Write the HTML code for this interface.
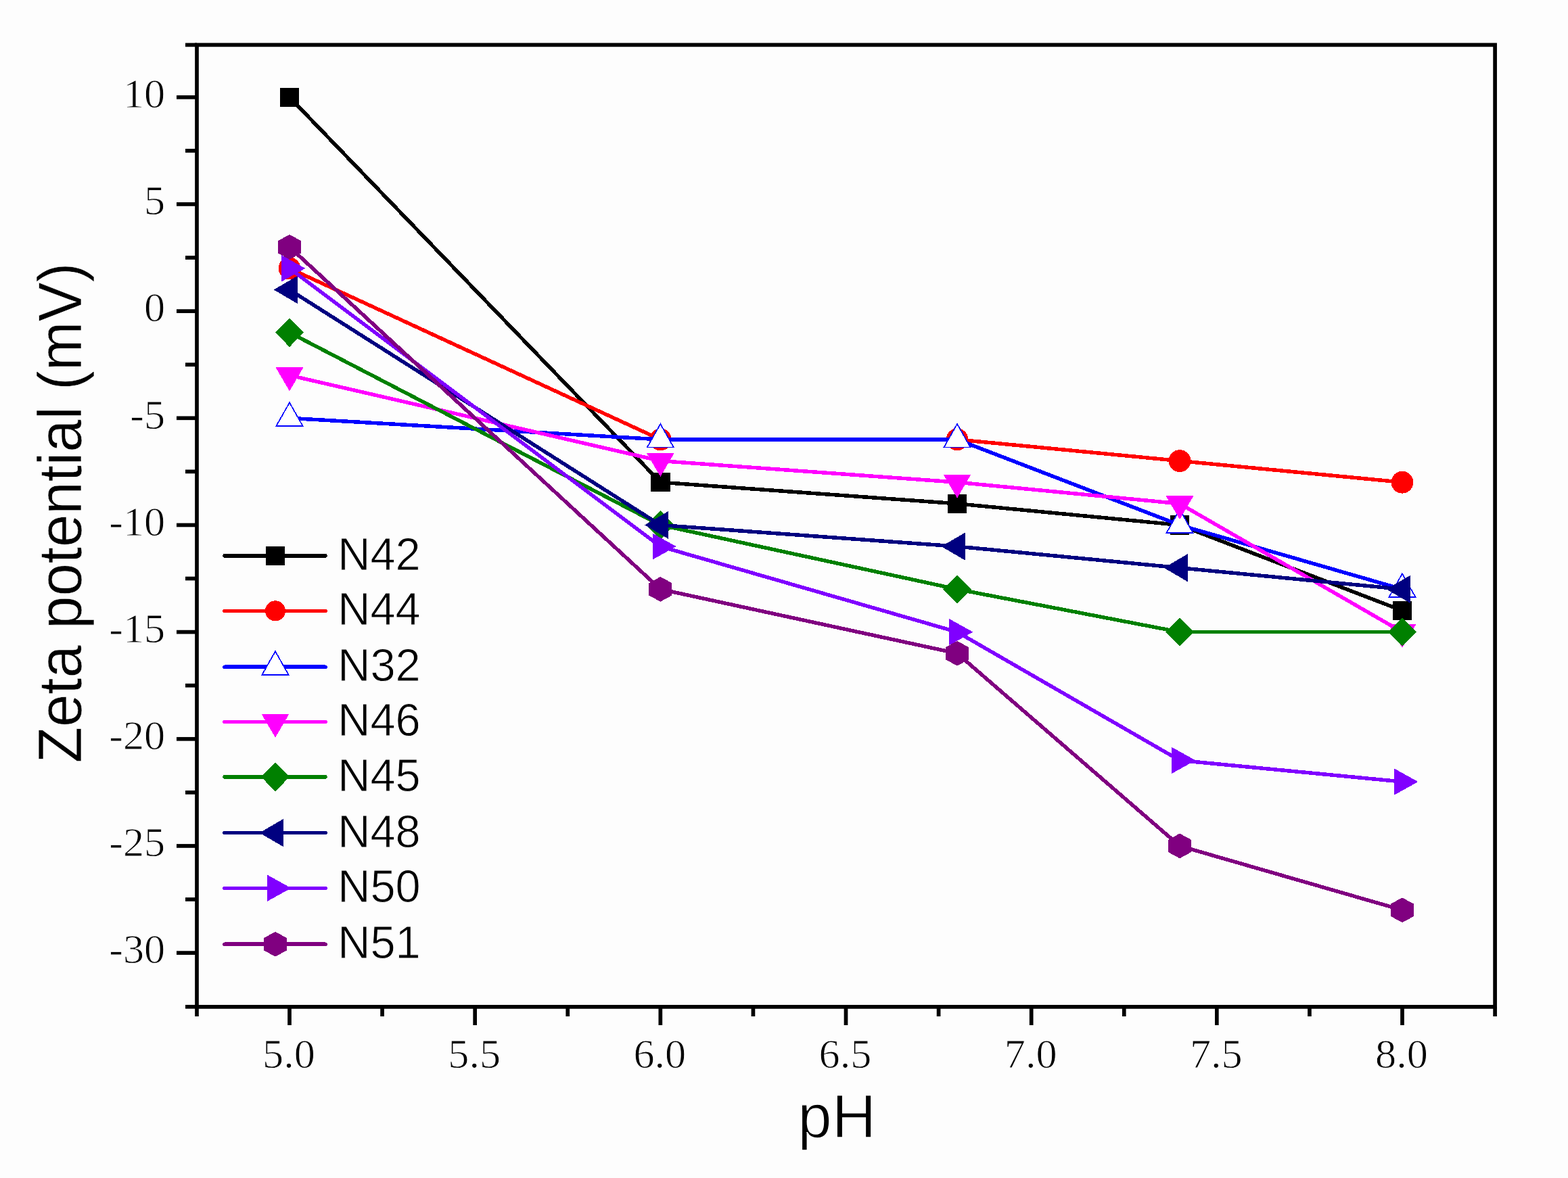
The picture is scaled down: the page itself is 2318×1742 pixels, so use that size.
<!DOCTYPE html>
<html><head><meta charset="utf-8"><title>Zeta potential vs pH</title>
<style>html,body{margin:0;padding:0;background:#fdfdfd;}svg{display:block;}</style></head><body>
<svg width="2318" height="1742" viewBox="0 0 2318 1742">
<rect x="0" y="0" width="2318" height="1742" fill="#fdfdfd"/>
<g stroke="#000" stroke-width="5.7" fill="none" stroke-linecap="butt">
<path d="M291 66.4H2210.1V1488.8H291Z"/>
<path d="M261 143.8H291"/>
<path d="M261 301.96H291"/>
<path d="M261 460.12H291"/>
<path d="M261 618.29H291"/>
<path d="M261 776.45H291"/>
<path d="M261 934.61H291"/>
<path d="M261 1092.78H291"/>
<path d="M261 1250.94H291"/>
<path d="M261 1409.1H291"/>
<path d="M274 66.4H291"/>
<path d="M274 222.88H291"/>
<path d="M274 381.04H291"/>
<path d="M274 539.21H291"/>
<path d="M274 697.37H291"/>
<path d="M274 855.53H291"/>
<path d="M274 1013.69H291"/>
<path d="M274 1171.86H291"/>
<path d="M274 1330.02H291"/>
<path d="M274 1488.8H291"/>
<path d="M428 1488.8V1516"/>
<path d="M702.17 1488.8V1516"/>
<path d="M976.33 1488.8V1516"/>
<path d="M1250.5 1488.8V1516"/>
<path d="M1524.67 1488.8V1516"/>
<path d="M1798.83 1488.8V1516"/>
<path d="M2073 1488.8V1516"/>
<path d="M291 1488.8V1503"/>
<path d="M565.08 1488.8V1503"/>
<path d="M839.25 1488.8V1503"/>
<path d="M1113.42 1488.8V1503"/>
<path d="M1387.58 1488.8V1503"/>
<path d="M1661.75 1488.8V1503"/>
<path d="M1935.92 1488.8V1503"/>
<path d="M2210.1 1488.8V1503"/>
</g>
<g font-family="'Liberation Serif','Times New Roman',serif" font-size="60.5" fill="#000" stroke="#fdfdfd" stroke-width="0.9">
<text transform="translate(244.2 159.1) scale(1.03 1)" text-anchor="end">10</text>
<text transform="translate(244.2 317.26) scale(1.03 1)" text-anchor="end">5</text>
<text transform="translate(244.2 475.43) scale(1.03 1)" text-anchor="end">0</text>
<text transform="translate(244.2 633.59) scale(1.03 1)" text-anchor="end">-5</text>
<text transform="translate(244.2 791.75) scale(1.03 1)" text-anchor="end">-10</text>
<text transform="translate(244.2 949.91) scale(1.03 1)" text-anchor="end">-15</text>
<text transform="translate(244.2 1108.08) scale(1.03 1)" text-anchor="end">-20</text>
<text transform="translate(244.2 1266.24) scale(1.03 1)" text-anchor="end">-25</text>
<text transform="translate(244.2 1424.4) scale(1.03 1)" text-anchor="end">-30</text>
<text transform="translate(427 1578.8) scale(1.03 1)" text-anchor="middle">5.0</text>
<text transform="translate(701.17 1578.8) scale(1.03 1)" text-anchor="middle">5.5</text>
<text transform="translate(975.33 1578.8) scale(1.03 1)" text-anchor="middle">6.0</text>
<text transform="translate(1249.5 1578.8) scale(1.03 1)" text-anchor="middle">6.5</text>
<text transform="translate(1523.67 1578.8) scale(1.03 1)" text-anchor="middle">7.0</text>
<text transform="translate(1797.83 1578.8) scale(1.03 1)" text-anchor="middle">7.5</text>
<text transform="translate(2072 1578.8) scale(1.03 1)" text-anchor="middle">8.0</text>
</g>
<text x="1179.3" y="1681.8" font-family="'Liberation Sans',Arial,sans-serif" font-size="90.7" fill="#000" stroke="#fdfdfd" stroke-width="1.4">pH</text>
<text transform="translate(119.6 1128.2) rotate(-90) scale(0.958 1)" font-family="'Liberation Sans',Arial,sans-serif" font-size="90.8" fill="#000" stroke="#fdfdfd" stroke-width="0.6">Zeta potential (mV)</text>
<g shape-rendering="crispEdges">
<polyline points="428,143.8 976.33,713.18 1415,744.82 1744,776.45 2073,902.98" fill="none" stroke="#000000" stroke-width="5.5" stroke-linejoin="round"/>
<rect x="413.7" y="129.5" width="28.6" height="28.6" fill="#000000"/>
<rect x="962.03" y="698.88" width="28.6" height="28.6" fill="#000000"/>
<rect x="1400.7" y="730.52" width="28.6" height="28.6" fill="#000000"/>
<rect x="1729.7" y="762.15" width="28.6" height="28.6" fill="#000000"/>
<rect x="2058.7" y="888.68" width="28.6" height="28.6" fill="#000000"/>
<polyline points="428,396.86 976.33,649.92 1415,649.92 1744,681.55 2073,713.18" fill="none" stroke="#FF0000" stroke-width="5.5" stroke-linejoin="round"/>
<circle cx="428" cy="396.86" r="16.4" fill="#FF0000"/>
<circle cx="976.33" cy="649.92" r="16.4" fill="#FF0000"/>
<circle cx="1415" cy="649.92" r="16.4" fill="#FF0000"/>
<circle cx="1744" cy="681.55" r="16.4" fill="#FF0000"/>
<circle cx="2073" cy="713.18" r="16.4" fill="#FF0000"/>
<polyline points="428,618.29 976.33,649.92 1415,649.92 1744,776.45 2073,871.35" fill="none" stroke="#0000FF" stroke-width="5.5" stroke-linejoin="round"/>
<polygon points="428,595.29 447.5,629.79 408.5,629.79" fill="#fff" stroke="#0000FF" stroke-width="1.7"/>
<polygon points="976.33,626.92 995.83,661.42 956.83,661.42" fill="#fff" stroke="#0000FF" stroke-width="1.7"/>
<polygon points="1415,626.92 1434.5,661.42 1395.5,661.42" fill="#fff" stroke="#0000FF" stroke-width="1.7"/>
<polygon points="1744,753.45 1763.5,787.95 1724.5,787.95" fill="#fff" stroke="#0000FF" stroke-width="1.7"/>
<polygon points="2073,848.35 2092.5,882.85 2053.5,882.85" fill="#fff" stroke="#0000FF" stroke-width="1.7"/>
<polyline points="428,555.02 976.33,681.55 1415,713.18 1744,744.82 2073,934.61" fill="none" stroke="#FF00FF" stroke-width="5.5" stroke-linejoin="round"/>
<polygon points="407.5,543.36 448.5,543.36 428,578.36" fill="#FF00FF"/>
<polygon points="955.83,669.89 996.83,669.89 976.33,704.89" fill="#FF00FF"/>
<polygon points="1394.5,701.52 1435.5,701.52 1415,736.52" fill="#FF00FF"/>
<polygon points="1723.5,733.15 1764.5,733.15 1744,768.15" fill="#FF00FF"/>
<polygon points="2052.5,922.95 2093.5,922.95 2073,957.95" fill="#FF00FF"/>
<polyline points="428,491.76 976.33,776.45 1415,871.35 1744,934.61 2073,934.61" fill="none" stroke="#008000" stroke-width="5.5" stroke-linejoin="round"/>
<polygon points="428,470.46 449,491.76 428,513.06 407,491.76" fill="#008000"/>
<polygon points="976.33,755.15 997.33,776.45 976.33,797.75 955.33,776.45" fill="#008000"/>
<polygon points="1415,850.05 1436,871.35 1415,892.65 1394,871.35" fill="#008000"/>
<polygon points="1744,913.31 1765,934.61 1744,955.91 1723,934.61" fill="#008000"/>
<polygon points="2073,913.31 2094,934.61 2073,955.91 2052,934.61" fill="#008000"/>
<polyline points="428,428.49 976.33,776.45 1415,808.08 1744,839.71 2073,871.35" fill="none" stroke="#000080" stroke-width="5.5" stroke-linejoin="round"/>
<polygon points="404.67,428.49 439.67,407.99 439.67,448.99" fill="#000080"/>
<polygon points="953,776.45 988,755.95 988,796.95" fill="#000080"/>
<polygon points="1391.67,808.08 1426.67,787.58 1426.67,828.58" fill="#000080"/>
<polygon points="1720.67,839.71 1755.67,819.21 1755.67,860.21" fill="#000080"/>
<polygon points="2049.67,871.35 2084.67,850.85 2084.67,891.85" fill="#000080"/>
<polyline points="428,396.86 976.33,808.08 1415,934.61 1744,1124.41 2073,1156.04" fill="none" stroke="#8000FF" stroke-width="5.5" stroke-linejoin="round"/>
<polygon points="451.33,396.86 416.33,377.36 416.33,416.36" fill="#8000FF"/>
<polygon points="999.67,808.08 964.67,788.58 964.67,827.58" fill="#8000FF"/>
<polygon points="1438.33,934.61 1403.33,915.11 1403.33,954.11" fill="#8000FF"/>
<polygon points="1767.33,1124.41 1732.33,1104.91 1732.33,1143.91" fill="#8000FF"/>
<polygon points="2096.33,1156.04 2061.33,1136.54 2061.33,1175.54" fill="#8000FF"/>
<polyline points="428,365.23 976.33,871.35 1415,966.25 1744,1250.94 2073,1345.84" fill="none" stroke="#800080" stroke-width="5.5" stroke-linejoin="round"/>
<polygon points="428,346.83 444.9,356.03 444.9,374.43 428,383.63 411.1,374.43 411.1,356.03" fill="#800080"/>
<polygon points="976.33,852.95 993.23,862.15 993.23,880.55 976.33,889.75 959.43,880.55 959.43,862.15" fill="#800080"/>
<polygon points="1415,947.85 1431.9,957.05 1431.9,975.45 1415,984.65 1398.1,975.45 1398.1,957.05" fill="#800080"/>
<polygon points="1744,1232.54 1760.9,1241.74 1760.9,1260.14 1744,1269.34 1727.1,1260.14 1727.1,1241.74" fill="#800080"/>
<polygon points="2073,1327.43 2089.9,1336.63 2089.9,1355.04 2073,1364.24 2056.1,1355.04 2056.1,1336.63" fill="#800080"/>
</g>
<g shape-rendering="crispEdges">
<path d="M332 821.9H481" stroke="#000000" stroke-width="5.5" stroke-linecap="round"/>
<rect x="392.7" y="807.6" width="28.6" height="28.6" fill="#000000"/>
<text transform="translate(499.2 842.9) scale(0.964 1)" font-family="'Liberation Sans',Arial,sans-serif" font-size="69.3" fill="#000" stroke="#fdfdfd" stroke-width="0.9">N42</text>
<path d="M332 903.3H481" stroke="#FF0000" stroke-width="5.5" stroke-linecap="round"/>
<circle cx="407" cy="903.3" r="15" fill="#FF0000"/>
<text transform="translate(499.2 924.3) scale(0.964 1)" font-family="'Liberation Sans',Arial,sans-serif" font-size="69.3" fill="#000" stroke="#fdfdfd" stroke-width="0.9">N44</text>
<path d="M332 986.2H481" stroke="#0000FF" stroke-width="5.5" stroke-linecap="round"/>
<polygon points="407,963.2 426.5,997.7 387.5,997.7" fill="#fff" stroke="#0000FF" stroke-width="1.7"/>
<text transform="translate(499.2 1007.2) scale(0.964 1)" font-family="'Liberation Sans',Arial,sans-serif" font-size="69.3" fill="#000" stroke="#fdfdfd" stroke-width="0.9">N32</text>
<path d="M332 1067.4H481" stroke="#FF00FF" stroke-width="5.5" stroke-linecap="round"/>
<polygon points="386.5,1055.73 427.5,1055.73 407,1090.73" fill="#FF00FF"/>
<text transform="translate(499.2 1088.4) scale(0.964 1)" font-family="'Liberation Sans',Arial,sans-serif" font-size="69.3" fill="#000" stroke="#fdfdfd" stroke-width="0.9">N46</text>
<path d="M332 1148.9H481" stroke="#008000" stroke-width="5.5" stroke-linecap="round"/>
<polygon points="407,1127.6 428,1148.9 407,1170.2 386,1148.9" fill="#008000"/>
<text transform="translate(499.2 1169.9) scale(0.964 1)" font-family="'Liberation Sans',Arial,sans-serif" font-size="69.3" fill="#000" stroke="#fdfdfd" stroke-width="0.9">N45</text>
<path d="M332 1231.6H481" stroke="#000080" stroke-width="5.5" stroke-linecap="round"/>
<polygon points="383.67,1231.6 418.67,1211.1 418.67,1252.1" fill="#000080"/>
<text transform="translate(499.2 1252.6) scale(0.964 1)" font-family="'Liberation Sans',Arial,sans-serif" font-size="69.3" fill="#000" stroke="#fdfdfd" stroke-width="0.9">N48</text>
<path d="M332 1313.3H481" stroke="#8000FF" stroke-width="5.5" stroke-linecap="round"/>
<polygon points="430.33,1313.3 395.33,1293.8 395.33,1332.8" fill="#8000FF"/>
<text transform="translate(499.2 1334.3) scale(0.964 1)" font-family="'Liberation Sans',Arial,sans-serif" font-size="69.3" fill="#000" stroke="#fdfdfd" stroke-width="0.9">N50</text>
<path d="M332 1396.2H481" stroke="#800080" stroke-width="5.5" stroke-linecap="round"/>
<polygon points="407,1377.8 423.9,1387 423.9,1405.4 407,1414.6 390.1,1405.4 390.1,1387" fill="#800080"/>
<text transform="translate(499.2 1417.2) scale(0.964 1)" font-family="'Liberation Sans',Arial,sans-serif" font-size="69.3" fill="#000" stroke="#fdfdfd" stroke-width="0.9">N51</text>
</g>
</svg></body></html>
